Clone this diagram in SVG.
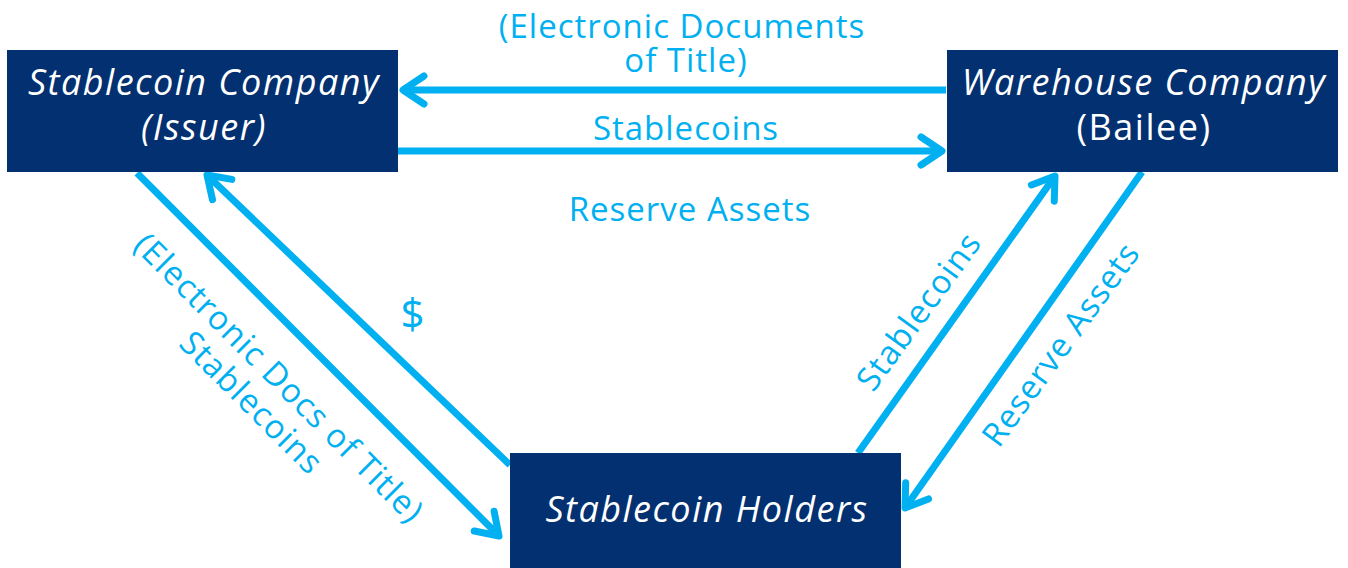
<svg xmlns="http://www.w3.org/2000/svg" width="1348" height="568" viewBox="0 0 1348 568">
<defs>
<style>
.box{fill:#023070;}
.t{font-family:"Open Sans","Liberation Sans",sans-serif;fill:#ffffff;font-size:36px;text-anchor:middle;letter-spacing:1.5px;}
.it{font-style:italic;}
.lbl{font-family:"Open Sans","Liberation Sans",sans-serif;fill:#00b0f0;font-size:33px;text-anchor:middle;letter-spacing:1px;}
.c{fill:none;stroke:#00b0f0;stroke-width:7;}
</style>
<marker id="ah" markerUnits="userSpaceOnUse" viewBox="-30 -20 40 40" refX="0" refY="0" markerWidth="40" markerHeight="40" orient="auto" overflow="visible">
<path d="M-21,-14 L0,0 L-21,14" fill="none" stroke="#00b0f0" stroke-width="7" stroke-linecap="round" stroke-linejoin="round"/>
</marker>
</defs>
<rect width="1348" height="568" fill="#ffffff"/>
<g id="connectors">
<line class="c" x1="946" y1="90" x2="403" y2="90" marker-end="url(#ah)"/>
<line class="c" x1="398" y1="151" x2="942" y2="151" marker-end="url(#ah)"/>
<line class="c" x1="137" y1="173" x2="499" y2="536" marker-end="url(#ah)"/>
<line class="c" x1="510" y1="465" x2="207" y2="175" marker-end="url(#ah)"/>
<line class="c" x1="858" y1="453" x2="1055" y2="176" marker-end="url(#ah)"/>
<line class="c" x1="1142" y1="172" x2="905" y2="508" marker-end="url(#ah)"/>
</g>
<g id="labels">
<text class="lbl"><tspan x="682" y="38">(Electronic Documents</tspan><tspan x="686" y="72">of Title)</tspan></text>
<text class="lbl" x="686" y="140">Stablecoins</text>
<text class="lbl" x="690" y="221">Reserve Assets</text>
<text class="lbl" x="413" y="329" style="font-size:42px">$</text>
<text class="lbl" transform="translate(271,386) rotate(45)"><tspan x="0" y="0">(Electronic Docs of Title)</tspan><tspan x="-2" y="37">Stablecoins</tspan></text>
<text class="lbl" transform="translate(928,318) rotate(-54)">Stablecoins</text>
<text class="lbl" transform="translate(1070,351) rotate(-54)">Reserve Assets</text>
</g>
<g id="node-issuer">
<rect class="box" x="7" y="50" width="391" height="122"/>
<text class="t it" x="204" y="95">Stablecoin Company</text>
<text class="t it" x="204" y="140">(Issuer)</text>
</g>
<g id="node-warehouse">
<rect class="box" x="947" y="50" width="391" height="122"/>
<text class="t it" x="1144" y="95">Warehouse Company</text>
<text class="t" x="1144" y="140">(Bailee)</text>
</g>
<g id="node-holders">
<rect class="box" x="510" y="453" width="391" height="115"/>
<text class="t it" x="707" y="522">Stablecoin Holders</text>
</g>
</svg>
